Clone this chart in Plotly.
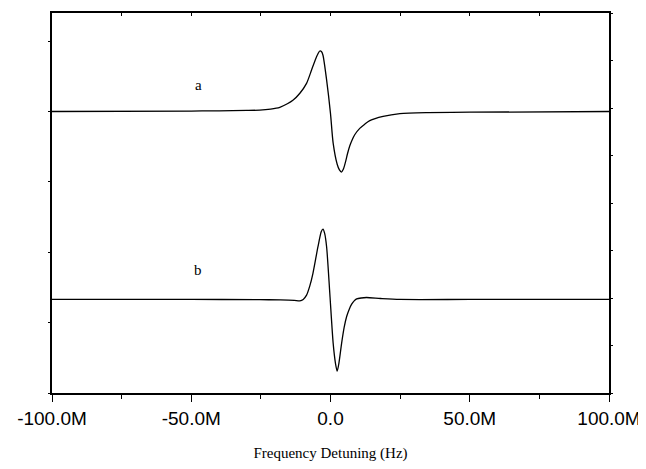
import plotly.graph_objects as go

# Trace a (left axis units), frequency in MHz
a_freq = [-100, -50, -40, -30, -25.4, -21.5, -18.2, -15.5, -13.5, -11.0, -8.6, -6.8, -5.3,
          -4.5, -3.85, -3.2, -2.7, -1.4, 0.0, 0.95, 2.4, 3.2, 3.9, 4.6, 5.3, 6.1, 6.9, 7.8,
          8.7, 10.5, 12.3, 14.1, 18.9, 24.9, 35, 50, 100]
a_sig = [4.0, 4.007, 4.01, 4.015, 4.02, 4.035, 4.06, 4.11, 4.16, 4.26, 4.40, 4.59, 4.75,
         4.82, 4.86, 4.85, 4.80, 4.45, 3.97, 3.55, 3.25, 3.17, 3.14, 3.18, 3.27, 3.40, 3.51, 3.60,
         3.67, 3.76, 3.82, 3.87, 3.93, 3.97, 3.985, 3.99, 4.0]

# Trace b (right axis units)
b_freq = [-100, -50, -25.4, -18.0, -13.0, -11.0, -9.8, -8.6, -7.4, -6.3, -4.5, -3.3, -2.7,
          -2.1, -1.4, -0.25, 0.95, 1.8, 2.4, 3.0, 4.0, 4.9, 5.8, 6.7, 7.6, 8.5, 9.4, 11.0,
          12.9, 18, 24.9, 50, 100]
b_sig = [1.97, 1.97, 1.965, 1.96, 1.95, 1.94, 1.97, 2.06, 2.26, 2.52, 3.08, 3.40, 3.45,
         3.36, 3.08, 2.10, 1.05, 0.62, 0.46, 0.62, 1.05, 1.38, 1.61, 1.76, 1.87, 1.94, 1.98, 2.0,
         2.01, 1.99, 1.97, 1.97, 1.97]

tick_vals = [-100e6, -50e6, 0, 50e6, 100e6]
tick_text = ["-100.0M", "-50.0M", "0.0", "50.0M", "100.0M"]
minor_vals = [-75e6, -25e6, 25e6, 75e6]

fig = go.Figure()
fig.add_trace(go.Scatter(x=[f * 1e6 for f in a_freq], y=a_sig, mode="lines",
                         line=dict(color="black", width=1.3, shape="spline", smoothing=0.7),
                         yaxis="y", showlegend=False))
fig.add_trace(go.Scatter(x=[f * 1e6 for f in b_freq], y=b_sig, mode="lines",
                         line=dict(color="black", width=1.3, shape="spline", smoothing=0.7),
                         yaxis="y2", showlegend=False))

fig.add_annotation(x=-47.4e6, y=4.375, xref="x", yref="y", text="a", showarrow=False,
                   font=dict(family="Liberation Serif", size=15, color="black"))
fig.add_annotation(x=-47.7e6, y=2.59, xref="x", yref="y2", text="b", showarrow=False,
                   font=dict(family="Liberation Serif", size=15, color="black"))

# the page body adds 8px on the top/left, margins compensate for it
fig.update_layout(
    width=646, height=469,
    margin=dict(l=44, r=45, t=5, b=84),
    paper_bgcolor="white", plot_bgcolor="white",
    xaxis=dict(range=[-100e6, 100e6], tickmode="array", tickvals=tick_vals, ticktext=tick_text,
               ticks="outside", ticklen=7, tickcolor="black", showgrid=False, zeroline=False,
               showline=True, linecolor="black", linewidth=1.5,
               tickfont=dict(family="Liberation Sans", size=19, color="black"),
               minor=dict(tickvals=minor_vals, ticks="outside", ticklen=4, tickcolor="black"),
               title=dict(text="Frequency Detuning (Hz)", standoff=20,
                          font=dict(family="Liberation Serif", size=15, color="black"))),
    xaxis2=dict(range=[-100e6, 100e6], overlaying="x", side="top", tickmode="array",
                tickvals=tick_vals + minor_vals, ticks="inside", ticklen=3, tickcolor="black",
                showticklabels=False, showgrid=False, zeroline=False,
                showline=True, linecolor="black", linewidth=1.5),
    yaxis=dict(range=[0, 5.4], dtick=1, tick0=0, ticks="outside", ticklen=2, tickcolor="black",
               showticklabels=False, showgrid=False, zeroline=False,
               showline=True, linecolor="black", linewidth=1.5),
    yaxis2=dict(range=[0, 8], dtick=1, tick0=0, overlaying="y", side="right",
                ticks="outside", ticklen=2, tickcolor="black",
                showticklabels=False, showgrid=False, zeroline=False,
                showline=True, linecolor="black", linewidth=1.5),
)

# invisible trace so the top axis is drawn
fig.add_trace(go.Scatter(x=[0], y=[0], xaxis="x2", yaxis="y", mode="markers",
                         marker=dict(opacity=0), showlegend=False, hoverinfo="skip"))

fig.write_html("out.html")
